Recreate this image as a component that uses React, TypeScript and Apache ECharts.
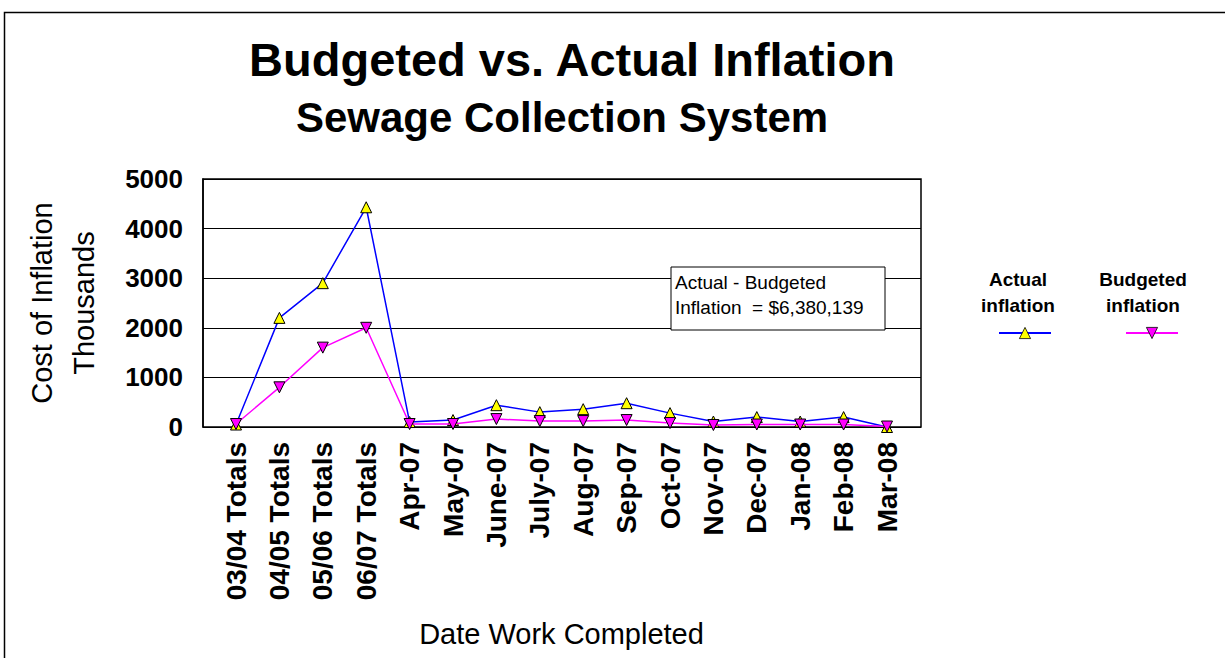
import React, { useEffect, useRef } from "react";
import * as echarts from "echarts";

const categories = [
  "03/04 Totals", "04/05 Totals", "05/06 Totals", "06/07 Totals",
  "Apr-07", "May-07", "June-07", "July-07", "Aug-07", "Sep-07",
  "Oct-07", "Nov-07", "Dec-07", "Jan-08", "Feb-08", "Mar-08",
];
const actualInflation = [50, 2200, 2900, 4430, 100, 140, 440, 300, 360, 480, 280, 110, 200, 110, 200, 0];
const budgetedInflation = [60, 800, 1600, 2000, 60, 60, 160, 120, 120, 140, 80, 40, 50, 50, 50, 10];
const yTicks = { min: 0, max: 5000, interval: 1000 };

const FONT = "'Liberation Sans', Arial, sans-serif";

export default function App() {
  const ref = useRef<HTMLDivElement>(null);
  useEffect(() => {
    if (!ref.current) return;
    const chart = echarts.init(ref.current, null, { renderer: "svg" });
    chart.setOption({
      animation: false,
      backgroundColor: "#ffffff",
      textStyle: { fontFamily: FONT },
      title: [
        {
          text: "Budgeted vs. Actual Inflation",
          left: 567, top: 31, textAlign: "center",
          textStyle: { fontFamily: FONT, fontSize: 47, fontWeight: "bold", color: "#000" },
        },
        {
          text: "Sewage Collection System",
          left: 557, top: 91, textAlign: "center",
          textStyle: { fontFamily: FONT, fontSize: 42, fontWeight: "bold", color: "#000" },
        },
      ],
      legend: [
        {
          data: ["Actual inflation"], left: 993, top: 321, itemWidth: 52, itemHeight: 14,
          formatter: () => "", textStyle: { fontSize: 1 }, selectedMode: false,
          itemStyle: { borderWidth: 0.8 },
        },
        {
          data: ["Budgeted inflation"], left: 1120, top: 321, itemWidth: 52, itemHeight: 14,
          formatter: () => "", textStyle: { fontSize: 1 }, selectedMode: false,
          itemStyle: { borderWidth: 0.8 },
        },
      ],
      grid: [
        { left: 203, top: 179, width: 718, height: 248, show: true, borderColor: "#000", borderWidth: 1.5, backgroundColor: "#fff" },
        { left: 214.3, top: 179, width: 694.4, height: 248 },
      ],
      xAxis: [
        { gridIndex: 0, type: "category", data: categories, show: false },
        {
          gridIndex: 1, type: "category", data: categories, boundaryGap: true,
          axisLine: { show: false }, axisTick: { show: false },
          axisLabel: { rotate: 90, margin: 15, fontFamily: FONT, fontSize: 28, fontWeight: "bold", color: "#000" },
          name: "Date Work Completed", nameLocation: "middle", nameGap: 192,
          nameTextStyle: { fontFamily: FONT, fontSize: 29, color: "#000" },
        },
      ],
      yAxis: [
        {
          gridIndex: 0, type: "value", ...yTicks,
          axisLine: { show: true, lineStyle: { color: "#000", width: 1.5 } },
          axisTick: { show: false },
          splitLine: { show: true, lineStyle: { color: "#000", width: 1.2 } },
          axisLabel: {
            margin: 20, fontFamily: FONT, fontSize: 26, fontWeight: "bold", color: "#000",
            formatter: (v: number) => String(v),
          },
          name: "Cost of Inflation\nThousands", nameLocation: "middle", nameGap: 98, nameRotate: 90,
          nameTextStyle: { fontFamily: FONT, fontSize: 29, color: "#000", lineHeight: 42 },
        },
        { gridIndex: 1, type: "value", ...yTicks, show: false, splitLine: { show: false } },
      ],
      series: [
        {
          name: "Actual inflation", type: "line", xAxisIndex: 1, yAxisIndex: 1,
          data: actualInflation, symbol: "triangle", symbolSize: 11,
          lineStyle: { color: "#0000ff", width: 1.5 },
          itemStyle: { color: "#ffff00", borderColor: "#000", borderWidth: 1 },
          z: 3,
        },
        {
          name: "Budgeted inflation", type: "line", xAxisIndex: 1, yAxisIndex: 1,
          data: budgetedInflation, symbol: "triangle", symbolRotate: 180, symbolSize: 11,
          lineStyle: { color: "#ff00ff", width: 1.5 },
          itemStyle: { color: "#ff00ff", borderColor: "#000", borderWidth: 1 },
          z: 4,
        },
      ],
      graphic: [
        {
          type: "rect", silent: true, z: -10,
          shape: { x: 4.5, y: 12.5, width: 1240, height: 700 },
          style: { fill: "none", stroke: "#000", lineWidth: 1.5 },
        },
        {
          type: "rect", z: 100,
          shape: { x: 671, y: 267, width: 214, height: 63 },
          style: { fill: "#fff", stroke: "#000", lineWidth: 1 },
        },
        {
          type: "text", z: 101, x: 675, y: 270,
          style: {
            text: "Actual - Budgeted\nInflation  = $6,380,139",
            font: `19px ${FONT}`, fill: "#000", lineHeight: 25,
          },
        },
        {
          type: "text", z: 101, x: 1018, y: 266,
          style: {
            text: "Actual\ninflation", font: `bold 19px ${FONT}`, fill: "#000",
            textAlign: "center", lineHeight: 26,
          },
        },
        {
          type: "text", z: 101, x: 1143, y: 266,
          style: {
            text: "Budgeted\ninflation", font: `bold 19px ${FONT}`, fill: "#000",
            textAlign: "center", lineHeight: 26,
          },
        },
      ],
    });
    return () => chart.dispose();
  }, []);
  return (
    <div
      ref={ref}
      style={{ position: "fixed", left: 0, top: 0, width: 1225, height: 658 }}
    />
  );
}
